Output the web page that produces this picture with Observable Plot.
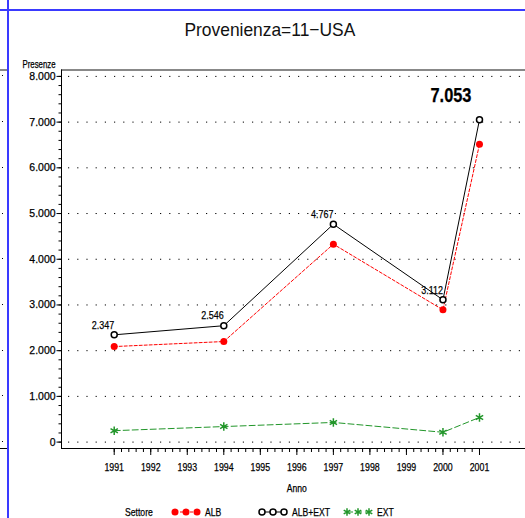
<!DOCTYPE html>
<html>
<head>
<meta charset="utf-8">
<script src="https://cdn.jsdelivr.net/npm/d3@7"></script>
<script src="https://cdn.jsdelivr.net/npm/@observablehq/plot@0.6"></script>
<style>
  html, body { margin: 0; padding: 0; background: white; }
  #wrap { position: relative; width: 525px; height: 518px; overflow: hidden; background: white; }
  #title { height: 55px; width: 525px; box-sizing: border-box; padding-left: 15px; text-align: center;
           font-family: 'Liberation Sans', Arial, sans-serif; font-size: 18.5px; line-height: 60px; color: #111; }
  #title span { display: inline-block; transform: scaleX(0.94); }
  #chart svg { display: block; }
  #chart text, #legend text { stroke: #000; stroke-width: 0.25px; }
  .blue-h { position: absolute; left: 0; top: 9px; width: 525px; height: 2px; background: #3a3aff; }
  .blue-v { position: absolute; left: 7px; top: 0; width: 2px; height: 518px; background: #3a3aff; }
  .piece { position: absolute; left: 0; width: 7px; }
  .dotl { position: absolute; left: 2px; width: 1px; height: 1px; background: #000; }
</style>
</head>
<body>
<div id="wrap">
  <div id="title"><span></span></div>
  <div id="chart"></div>
  <div id="legend"></div>
  <div class="piece" style="top:69px;height:2px;background:#888"></div>
  <div class="piece" style="top:448px;height:1px;background:#000"></div>
  <div class="blue-h"></div>
  <div class="blue-v"></div>
</div>
<script>
// ---- data ----
const titleText = "Provenienza=11\u2212USA";
const years = [1991, 1994, 1997, 2000, 2001];
const albExt = [2347, 2546, 4767, 3112, 7053];
const alb = [2090, 2200, 4330, 2893, 6515];
const ext = [250, 340, 430, 215, 540];
const seriesNames = ["ALB", "ALB+EXT", "EXT"];
const yTicks = [0, 1000, 2000, 3000, 4000, 5000, 6000, 7000, 8000];
const xTicks = [1991, 1992, 1993, 1994, 1995, 1996, 1997, 1998, 1999, 2000, 2001];
const yLabel = "Presenze";
const xLabel = "Anno";
const legendTitle = "Settore";

// ---- helpers ----
const fontFam = "'Liberation Sans',Arial,sans-serif";
const it = d3.formatLocale({decimal: ",", thousands: ".", grouping: [3], currency: ["", "\u20ac"]});
const fmt = it.format(",d");
const xDomain = [1989.557, 2002.443];
const yDomain = [-140, 8140];
const yMinor = d3.range(0, 8001, 200);
const xMinor = d3.range(1991, 2001.01, 0.2).map(v => +v.toFixed(1));
const colors = {"ALB": "#ff0000", "ALB+EXT": "#000000", "EXT": "#22962a"};

const rows = years.flatMap((yr, i) => [
  {year: yr, series: "ALB", value: alb[i]},
  {year: yr, series: "ALB+EXT", value: albExt[i]},
  {year: yr, series: "EXT", value: ext[i]}
]);
const isS = s => d => d.series === s;
const lastYear = years[years.length - 1];

document.querySelector("#title span").textContent = titleText;

const chart = Plot.plot({
  width: 545,
  height: 445,
  marginLeft: 61,
  marginRight: 13.3,
  marginTop: 14.5,
  marginBottom: 52,
  style: {fontFamily: fontFam, fontSize: "11px", color: "black", background: "transparent", overflow: "visible", maxWidth: "none"},
  x: {domain: xDomain},
  y: {domain: yDomain},
  marks: [
    Plot.gridY(yTicks, {stroke: "black", strokeOpacity: 1, strokeWidth: 1, strokeDasharray: "1.2,8", strokeDashoffset: 2.2}),
    Plot.ruleY([yDomain[1]], {stroke: "#888", strokeWidth: 2}),
    Plot.ruleY([yDomain[0]], {stroke: "black", strokeWidth: 1}),
    Plot.ruleX([xDomain[0]], {stroke: "black", strokeWidth: 1}),
    Plot.axisY(yMinor, {anchor: "left", tickSize: 2.5, tickFormat: () => "", label: null}),
    Plot.axisY(yTicks, {anchor: "left", tickSize: 4.5, tickPadding: 1.5, tickFormat: fmt, label: null}),
    Plot.axisX(xMinor, {anchor: "bottom", tickSize: 4, tickFormat: () => "", label: null}),
    Plot.axisX(xTicks, {anchor: "bottom", tickSize: 7, tickPadding: 7.5, tickFormat: d => String(d), label: null}),
    Plot.text([xLabel], {frameAnchor: "bottom", dy: 43, fontSize: 11}),
    Plot.text([yLabel], {frameAnchor: "top-left", textAnchor: "end", dx: -6, dy: -9.5, fontSize: 10}),
    Plot.line(rows, {filter: isS("EXT"), x: "year", y: "value", stroke: colors["EXT"], strokeWidth: 1, strokeDasharray: "6,3"}),
    Plot.line(rows, {filter: isS("ALB"), x: "year", y: "value", stroke: colors["ALB"], strokeWidth: 1, strokeDasharray: "3,2"}),
    Plot.line(rows, {filter: isS("ALB+EXT"), x: "year", y: "value", stroke: colors["ALB+EXT"], strokeWidth: 1}),
    Plot.dot(rows, {filter: isS("EXT"), x: "year", y: "value", symbol: "asterisk", r: 4, stroke: colors["EXT"], strokeWidth: 1.5}),
    Plot.dot(rows, {filter: isS("ALB"), x: "year", y: "value", r: 3.5, fill: colors["ALB"], stroke: "none"}),
    Plot.dot(rows, {filter: isS("ALB+EXT"), x: "year", y: "value", r: 3, fill: "white", stroke: colors["ALB+EXT"], strokeWidth: 1.5}),
    Plot.text(rows, {filter: d => d.series === "ALB+EXT" && d.year !== lastYear, x: "year", y: "value",
      text: d => fmt(d.value), textAnchor: "end", dy: -10, fontSize: 11.5}),
    Plot.text(rows, {filter: d => d.series === "ALB+EXT" && d.year === lastYear, x: "year", y: "value",
      text: d => fmt(d.value), textAnchor: "end", dx: -8, dy: -24, fontSize: 21, fontWeight: "bold"})
  ]
});
document.getElementById("chart").appendChild(chart);

// narrow the glyphs to mimic the condensed SAS font
function narrow(nodes, ratio) {
  nodes.forEach(t => {
    const w = t.getComputedTextLength();
    if (w > 0) { t.setAttribute("textLength", (w * ratio).toFixed(2)); t.setAttribute("lengthAdjust", "spacingAndGlyphs"); }
  });
}
narrow(chart.querySelectorAll('[aria-label="y-axis tick label"] text'), 0.95);
narrow(chart.querySelectorAll('[aria-label="x-axis tick label"] text'), 0.8);
narrow(chart.querySelectorAll('[aria-label="text"] text'), 0.78);

// dots of the neighbouring panel's grid, left of the blue frame line
const yS = chart.scale("y");
yTicks.forEach(v => {
  const d = document.createElement("div");
  d.className = "dotl";
  d.style.top = (55 + yS.apply(v) - 0.5) + "px";
  document.getElementById("wrap").appendChild(d);
});

// ---- legend ----
const legend = d3.select("#legend").append("svg").attr("width", 525).attr("height", 18)
  .style("display", "block").style("font-family", fontFam).style("font-size", "11.5px");
legend.append("text").attr("x", 125).attr("y", 12).attr("dy", "0.35em").text(legendTitle);
const legendX = {"ALB": 175, "ALB+EXT": 262, "EXT": 347};
const dashes = {"ALB": "3,2", "ALB+EXT": null, "EXT": "6,3"};
seriesNames.forEach(s => {
  const x0 = legendX[s];
  const g = legend.append("g");
  g.append("line").attr("x1", x0).attr("x2", x0 + 22).attr("y1", 12).attr("y2", 12)
    .attr("stroke", colors[s]).attr("stroke-dasharray", dashes[s]);
  [0, 11, 22].forEach(off => {
    if (s === "ALB") g.append("circle").attr("cx", x0 + off).attr("cy", 12).attr("r", 3.5).attr("fill", colors[s]);
    else if (s === "ALB+EXT") g.append("circle").attr("cx", x0 + off).attr("cy", 12).attr("r", 3).attr("fill", "white").attr("stroke", "black").attr("stroke-width", 1.5);
    else g.append("path").attr("transform", `translate(${x0 + off},12)`).attr("d", d3.symbol(d3.symbolAsterisk, 40)()).attr("stroke", colors[s]).attr("stroke-width", 1.5).attr("fill", "none");
  });
  g.append("text").attr("x", x0 + 30).attr("y", 12).attr("dy", "0.35em").text(s);
});
narrow(legend.selectAll("text").nodes(), 0.75);
</script>
</body>
</html>
